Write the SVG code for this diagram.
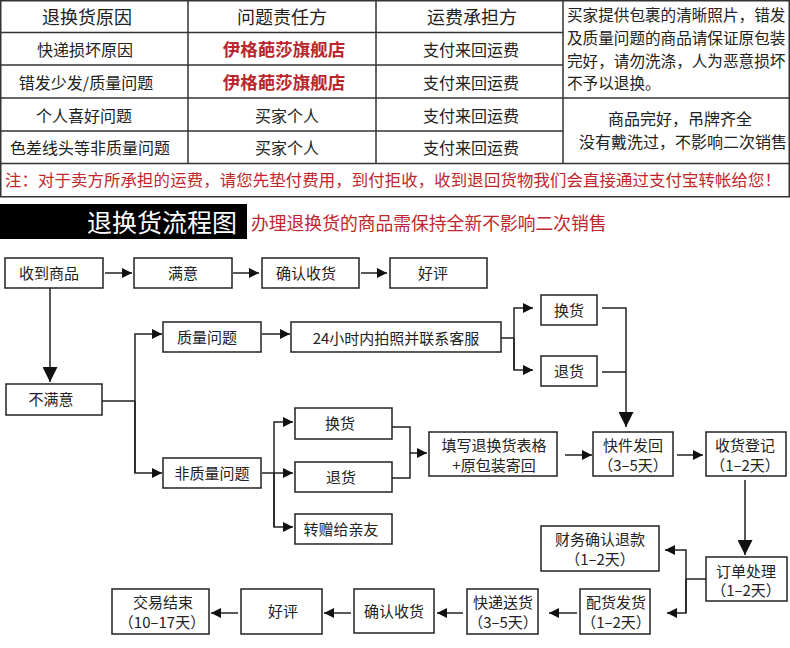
<svg xmlns="http://www.w3.org/2000/svg" width="790" height="648" viewBox="0 0 790 648">
<style>
text{font-family:"Noto Sans CJK SC","Noto Sans",sans-serif;fill:#222}
.grid{stroke:#333;stroke-width:1.5;fill:none}
.th{font-size:18px;text-anchor:middle}
.td{font-size:16px;text-anchor:middle}
.shop{font-size:17.5px;font-weight:bold;fill:#b9262c;text-anchor:middle}
.note{font-size:15.6px}
.red{fill:#c0262c}
.box{fill:#fff;stroke:#222;stroke-width:1.5}
.t{font-size:15px;text-anchor:middle}
.conn{stroke:#222;stroke-width:1.5;fill:none}
</style>
<defs>
<marker id="a" markerUnits="userSpaceOnUse" markerWidth="10" markerHeight="10" refX="10" refY="5" orient="auto"><path d="M0,0 L10,5 L0,10 z" fill="#111"/></marker>
<marker id="A" markerUnits="userSpaceOnUse" markerWidth="15" markerHeight="15" refX="15" refY="7.5" orient="auto"><path d="M0,0 L15,7.5 L0,15 z" fill="#111"/></marker>
</defs>
<rect width="790" height="648" fill="#fff"/>

<g id="table">
<rect class="grid" x="0.75" y="0.75" width="788.5" height="196"/>
<path class="grid" d="M0,32.5H563 M0,65H563 M563,98H789 M0,98H563 M0,131H563 M0,163.5H789 M188,0V163.5 M376,0V163.5 M563,0V163.5"/>
<text class="th" x="87" y="24">退换货原因</text>
<text class="th" x="282" y="24">问题责任方</text>
<text class="th" x="472" y="24">运费承担方</text>
<text class="td" x="85" y="56">快递损坏原因</text>
<text class="shop" x="284" y="56">伊格葩莎旗舰店</text>
<text class="td" x="471" y="56">支付来回运费</text>
<text class="td" x="86" y="88.5">错发少发/质量问题</text>
<text class="shop" x="284" y="88.5">伊格葩莎旗舰店</text>
<text class="td" x="471" y="88.5">支付来回运费</text>
<text class="td" x="84" y="121.5">个人喜好问题</text>
<text class="td" x="287" y="121.5">买家个人</text>
<text class="td" x="471" y="121.5">支付来回运费</text>
<text class="td" x="90" y="154">色差线头等非质量问题</text>
<text class="td" x="287" y="154">买家个人</text>
<text class="td" x="471" y="154">支付来回运费</text>
<text class="note" x="567" y="21">买家提供包裹的清晰照片，错发</text>
<text class="note" x="567" y="44">及质量问题的商品请保证原包装</text>
<text class="note" x="567" y="67">完好，请勿洗涤，人为恶意损坏</text>
<text class="note" x="567" y="89">不予以退换。</text>
<text class="td" x="680" y="125">商品完好，吊牌齐全</text>
<text class="td" x="683" y="148">没有戴洗过，不影响二次销售</text>
<text class="red" x="5" y="186" font-size="16.4" textLength="776" lengthAdjust="spacing">注：对于卖方所承担的运费，请您先垫付费用，到付拒收，收到退回货物我们会直接通过支付宝转帐给您！</text>
</g>

<g id="title">
<rect x="0" y="204" width="247" height="35" fill="#000"/>
<text x="87" y="231.5" font-size="25" style="fill:#fff">退换货流程图</text>
<text class="red" x="251" y="229.5" font-size="17.8">办理退换货的商品需保持全新不影响二次销售</text>
</g>

<g id="connectors">
<path class="conn" d="M105,273H132" marker-end="url(#a)"/>
<path class="conn" d="M233,273H259" marker-end="url(#a)"/>
<path class="conn" d="M361,273H387" marker-end="url(#a)"/>
<path class="conn" d="M50,288V382" marker-end="url(#A)"/>
<path class="conn" d="M102,401H135"/>
<path class="conn" d="M135,473V334H162" marker-end="url(#a)"/>
<path class="conn" d="M135,401V473H162" marker-end="url(#a)"/>
<path class="conn" d="M262,334H290" marker-end="url(#a)"/>
<path class="conn" d="M501,338H514"/>
<path class="conn" d="M514,370V308H533" marker-end="url(#a)"/>
<path class="conn" d="M514,338V370H533" marker-end="url(#a)"/>
<path class="conn" d="M602,308H626V427" marker-end="url(#A)"/>
<path class="conn" d="M602,372H626"/>
<path class="conn" d="M262,473H293" marker-end="url(#a)"/>
<path class="conn" d="M274,527V422H293" marker-end="url(#a)"/>
<path class="conn" d="M274,473V527H293" marker-end="url(#a)"/>
<path class="conn" d="M392,427H410V478H392"/>
<path class="conn" d="M410,453H427" marker-end="url(#a)"/>
<path class="conn" d="M565,455H592" marker-end="url(#a)"/>
<path class="conn" d="M677,455H703" marker-end="url(#a)"/>
<path class="conn" d="M745,480V555" marker-end="url(#A)"/>
<path class="conn" d="M706,579H686"/>
<path class="conn" d="M686,613V550H665" marker-end="url(#a)"/>
<path class="conn" d="M686,579V613H667" marker-end="url(#a)"/>
<path class="conn" d="M577,613H549" marker-end="url(#a)"/>
<path class="conn" d="M463,613H437" marker-end="url(#a)"/>
<path class="conn" d="M351,613H324" marker-end="url(#a)"/>
<path class="conn" d="M238,613H211" marker-end="url(#a)"/>
</g>

<g id="n-receive"><rect class="box" x="5" y="258" width="98" height="30"/><text class="t" x="49" y="278.5">收到商品</text></g>
<g id="n-satisfied"><rect class="box" x="134" y="258" width="98" height="30"/><text class="t" x="183" y="278.5">满意</text></g>
<g id="n-confirm1"><rect class="box" x="262" y="258" width="97" height="30"/><text class="t" x="306" y="278.5">确认收货</text></g>
<g id="n-praise1"><rect class="box" x="390" y="258" width="97" height="30"/><text class="t" x="433" y="278.5">好评</text></g>
<g id="n-unsatisfied"><rect class="box" x="6" y="384" width="96" height="31"/><text class="t" x="51" y="405">不满意</text></g>
<g id="n-quality"><rect class="box" x="163" y="322" width="98" height="30"/><text class="t" x="207" y="342.5">质量问题</text></g>
<g id="n-24h"><rect class="box" x="291" y="322" width="210" height="30"/><text class="t" x="396" y="343.5" font-size="18">24小时内拍照并联系客服</text></g>
<g id="n-exchange1"><rect class="box" x="541" y="295" width="56" height="30"/><text class="t" x="569" y="315.5">换货</text></g>
<g id="n-return1"><rect class="box" x="541" y="356" width="56" height="30"/><text class="t" x="569" y="376.5">退货</text></g>
<g id="n-nonquality"><rect class="box" x="163" y="458" width="98" height="30"/><text class="t" x="212" y="478.5">非质量问题</text></g>
<g id="n-exchange2"><rect class="box" x="295" y="408" width="97" height="31"/><text class="t" x="340" y="429">换货</text></g>
<g id="n-return2"><rect class="box" x="295" y="462" width="97" height="30"/><text class="t" x="341" y="482.5">退货</text></g>
<g id="n-gift"><rect class="box" x="295" y="514" width="97" height="30"/><text class="t" x="341" y="534.5">转赠给亲友</text></g>
<g id="n-form"><rect class="box" x="429" y="432" width="128" height="44"/><text class="t" x="494" y="450.5">填写退换货表格</text><text class="t" x="494" y="470.5">+原包装寄回</text></g>
<g id="n-sendback"><rect class="box" x="593" y="432" width="80" height="44"/><text class="t" x="633" y="450.5">快件发回</text><text class="t" x="633" y="470.5">（3–5天）</text></g>
<g id="n-register"><rect class="box" x="706" y="432" width="80" height="44"/><text class="t" x="745" y="450.5">收货登记</text><text class="t" x="745" y="470.5">（1–2天）</text></g>
<g id="n-refund"><rect class="box" x="541" y="526" width="118" height="45"/><text class="t" x="600" y="545">财务确认退款</text><text class="t" x="600" y="565">（1–2天）</text></g>
<g id="n-order"><rect class="box" x="706" y="557" width="81" height="44"/><text class="t" x="746" y="577">订单处理</text><text class="t" x="746" y="596">（1–2天）</text></g>
<g id="n-ship"><rect class="box" x="580" y="589" width="70" height="45"/><text class="t" x="616" y="608">配货发货</text><text class="t" x="616" y="628">（1–2天）</text></g>
<g id="n-express"><rect class="box" x="467" y="589" width="71" height="45"/><text class="t" x="503" y="608">快递送货</text><text class="t" x="503" y="628">（3–5天）</text></g>
<g id="n-confirm2"><rect class="box" x="354" y="589" width="80" height="44"/><text class="t" x="394" y="616.5">确认收货</text></g>
<g id="n-praise2"><rect class="box" x="241" y="589" width="81" height="45"/><text class="t" x="283" y="617">好评</text></g>
<g id="n-done"><rect class="box" x="112" y="589" width="97" height="45"/><text class="t" x="163" y="608">交易结束</text><text class="t" x="162" y="628">（10–17天）</text></g>
</svg>
